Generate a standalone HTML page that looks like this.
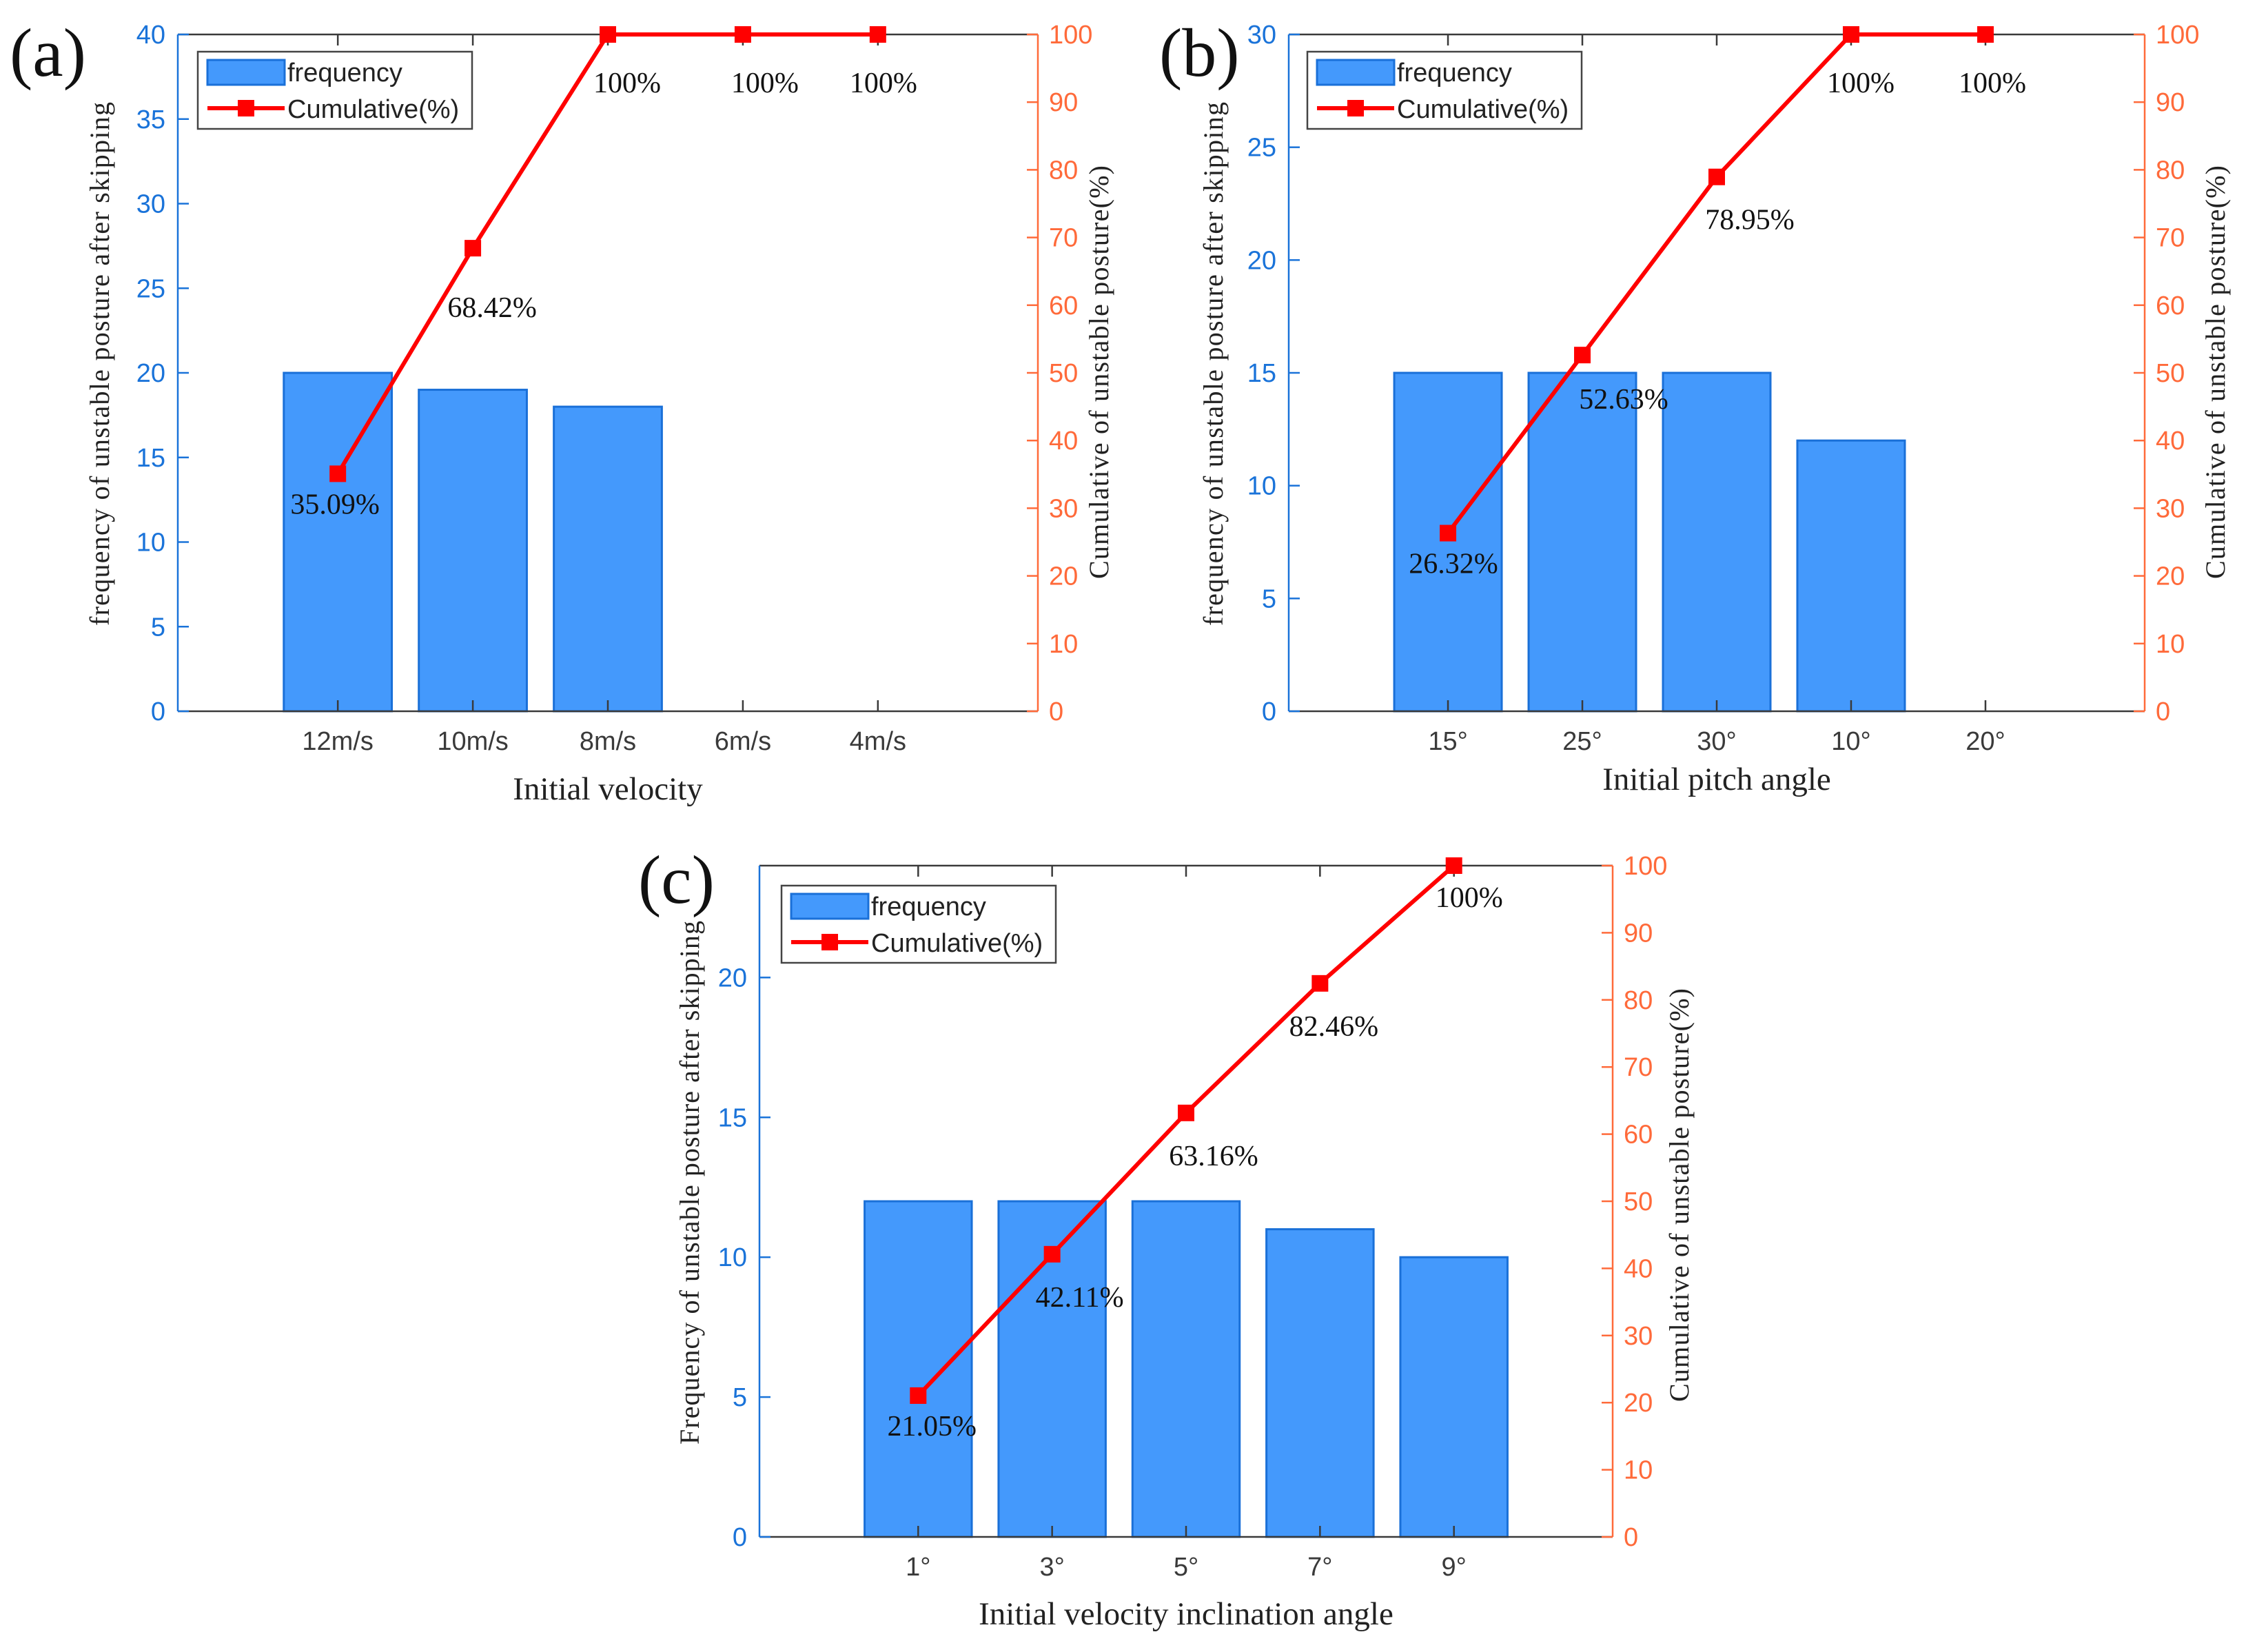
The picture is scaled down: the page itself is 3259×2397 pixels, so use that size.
<!DOCTYPE html>
<html><head><meta charset="utf-8"><style>
html,body{margin:0;padding:0;background:#fff}
svg{display:block}
</style></head><body>
<svg id="fig" xmlns="http://www.w3.org/2000/svg" width="3259" height="2397" viewBox="0 0 3259 2397"></svg>
<script>
// ---- chart (a) data ----
const catsA = ["12m/s","10m/s","8m/s","6m/s","4m/s"];
const freqA = [20,19,18,0,0];
const cumA = [35.09,68.42,100,100,100];
const cumLabelsA = ["35.09%","68.42%","100%","100%","100%"];
const leftTicksA = [0,5,10,15,20,25,30,35,40];
// ---- chart (b) data ----
const catsB = ["15°","25°","30°","10°","20°"];
const freqB = [15,15,15,12,0];
const cumB = [26.32,52.63,78.95,100,100];
const cumLabelsB = ["26.32%","52.63%","78.95%","100%","100%"];
const leftTicksB = [0,5,10,15,20,25,30];
// ---- chart (c) data ----
const catsC = ["1°","3°","5°","7°","9°"];
const freqC = [12,12,12,11,10];
const cumC = [21.05,42.11,63.16,82.46,100];
const cumLabelsC = ["21.05%","42.11%","63.16%","82.46%","100%"];
const leftTicksC = [0,5,10,15,20];
const rightTicks = [0,10,20,30,40,50,60,70,80,90,100];

const NS="http://www.w3.org/2000/svg";
const svg=document.getElementById('fig');
function mk(tag,attrs,parent){const e=document.createElementNS(NS,tag);for(const k in attrs)e.setAttribute(k,attrs[k]);(parent||svg).appendChild(e);return e;}

function chart(cfg){
  const g=mk('g',{});
  
  
  const {L,R,T,B}=cfg;
  const n=cfg.cats.length;
  const pad=1.185;
  const xs=i=>L+(i+1-(1-pad))/(n-1+2*pad)*(R-L);
  const yl=v=>B-v/cfg.lmax*(B-T);
  const yr=v=>B-v/100*(B-T);
  const step=(R-L)/(n-1+2*pad);
  cfg.freq.forEach((v,i)=>{
    if(v<=0)return;
    const r=mk('rect',{x:xs(i)-step*0.4,y:yl(v),width:step*0.8,height:B-yl(v),fill:'#4499fc',stroke:'#1a70d8','stroke-width':3},g);
    
    
  });
  mk('line',{x1:L,y1:T,x2:R,y2:T,stroke:'#3a3a3a','stroke-width':2.5},g);
  mk('line',{x1:L,y1:B,x2:R,y2:B,stroke:'#3a3a3a','stroke-width':2.5},g);
  mk('line',{x1:L,y1:T,x2:L,y2:B,stroke:'#1a73d9','stroke-width':2.5},g);
  mk('line',{x1:R,y1:T,x2:R,y2:B,stroke:'#ff6a3a','stroke-width':2.5},g);
  cfg.cats.forEach((c,i)=>{
    const x=xs(i);
    mk('line',{x1:x,y1:B,x2:x,y2:B-16,stroke:'#3a3a3a','stroke-width':2.5},g);
    mk('line',{x1:x,y1:T,x2:x,y2:T+16,stroke:'#3a3a3a','stroke-width':2.5},g);
    const t=mk('text',{x:x,y:B+56,'text-anchor':'middle','font-family':'Liberation Sans, sans-serif','font-size':38,fill:'#3a3a3a'},g);
    t.textContent=c;
    
    
  });
  cfg.lticks.forEach(v=>{
    const y=yl(v);
    mk('line',{x1:L,y1:y,x2:L+16,y2:y,stroke:'#1a73d9','stroke-width':2.5},g);
    const t=mk('text',{x:L-18,y:y+13,'text-anchor':'end','font-family':'Liberation Sans, sans-serif','font-size':38,fill:'#1a73d9'},g);
    t.textContent=v;
    
    
  });
  rightTicks.forEach(v=>{
    const y=yr(v);
    mk('line',{x1:R,y1:y,x2:R-16,y2:y,stroke:'#ff6a3a','stroke-width':2.5},g);
    const t=mk('text',{x:R+16,y:y+13,'text-anchor':'start','font-family':'Liberation Sans, sans-serif','font-size':38,fill:'#ff6a3a'},g);
    t.textContent=v;
    
    
  });
  const pts=cfg.cum.map((v,i)=>xs(i)+','+yr(v)).join(' ');
  const pl=mk('polyline',{points:pts,fill:'none',stroke:'#ff0000','stroke-width':6},g);
  
  
  cfg.cum.forEach((v,i)=>{
    const m=mk('rect',{x:xs(i)-12,y:yr(v)-12,width:24,height:24,fill:'#ff0000'},g);
    
    
    const t=mk('text',{x:xs(i)+cfg.ldx[i],y:yr(v)+cfg.ldy[i],'text-anchor':'middle','font-family':'Liberation Serif, serif','font-size':42,fill:'#111'},g);
    t.textContent=cfg.labels[i];
    
    
  });
  const xt=mk('text',{x:(L+R)/2,y:cfg.xty,'text-anchor':'middle','font-family':'Liberation Serif, serif','font-size':47,fill:'#222'},g);
  xt.textContent=cfg.xtitle;
  
  
  const lt=mk('text',{x:0,y:0,'text-anchor':'middle','font-family':'Liberation Serif, serif','font-size':40,fill:'#222',textLength:cfg.ltLen,lengthAdjust:'spacing',transform:`translate(${cfg.ltx},${cfg.lty}) rotate(-90)`},g);
  lt.textContent=cfg.ltitle;
  
  
  const rt=mk('text',{x:0,y:0,'text-anchor':'middle','font-family':'Liberation Serif, serif','font-size':40,fill:'#222',textLength:cfg.rtLen,lengthAdjust:'spacing',transform:`translate(${cfg.rtx},${cfg.rty}) rotate(-90)`},g);
  rt.textContent='Cumulative of unstable posture(%)';
  
  
  const pt=mk('text',{x:cfg.px,y:cfg.py,'font-family':'Liberation Serif, serif','font-size':100,fill:'#111'},g);
  pt.textContent=cfg.panel;
  
  
  const [lx,ly]=cfg.leg;
  const lg=mk('g',{},g);
  
  
  mk('rect',{x:lx,y:ly,width:398,height:112,fill:'#fff',stroke:'#444','stroke-width':2.5},lg);
  mk('rect',{x:lx+14,y:ly+12,width:112,height:36,fill:'#4499fc',stroke:'#1a70d8','stroke-width':3},lg);
  const l1=mk('text',{x:lx+130,y:ly+43,'font-family':'Liberation Sans, sans-serif','font-size':38,fill:'#222'},lg);
  l1.textContent='frequency';
  
  
  mk('line',{x1:lx+14,y1:ly+82,x2:lx+126,y2:ly+82,stroke:'#ff0000','stroke-width':6},lg);
  mk('rect',{x:lx+58,y:ly+70,width:24,height:24,fill:'#ff0000'},lg);
  const l2=mk('text',{x:lx+130,y:ly+96,'font-family':'Liberation Sans, sans-serif','font-size':38,fill:'#222'},lg);
  l2.textContent='Cumulative(%)';
  
  
}

chart({name:'chart-a-initial-velocity',L:258,R:1506,T:50,B:1032,cats:catsA,freq:freqA,cum:cumA,labels:cumLabelsA,lmax:40,lticks:leftTicksA,
  ldx:[-4,28,28,32,8],ldy:[58,100,84,84,84],xtitle:'Initial velocity',xty:1160,
  ltitle:'frequency of unstable posture after skipping',ltx:158,lty:528,ltLen:760,rtx:1608,rty:540,rtLen:600,
  panel:'(a)',px:14,py:110,leg:[287,75]});
chart({name:'chart-b-initial-pitch-angle',L:1870,R:3112,T:50,B:1032,cats:catsB,freq:freqB,cum:cumB,labels:cumLabelsB,lmax:30,lticks:leftTicksB,
  ldx:[8,60,48,14,10],ldy:[58,78,76,84,84],xtitle:'Initial pitch angle',xty:1146,
  ltitle:'frequency of unstable posture after skipping',ltx:1774,lty:528,ltLen:760,rtx:3228,rty:540,rtLen:600,
  panel:'(b)',px:1682,py:110,leg:[1897,75]});
chart({name:'chart-c-initial-velocity-inclination',L:1102,R:2340,T:1256,B:2230,cats:catsC,freq:freqC,cum:cumC,labels:cumLabelsC,lmax:24,lticks:leftTicksC,
  ldx:[20,40,40,20,22],ldy:[58,76,76,76,60],xtitle:'Initial velocity inclination angle',xty:2357,
  ltitle:'Frequency of unstable posture after skipping',ltx:1014,lty:1716,ltLen:760,rtx:2450,rty:1734,rtLen:600,
  panel:'(c)',px:926,py:1310,leg:[1134,1285]});
</script>
</body></html>
